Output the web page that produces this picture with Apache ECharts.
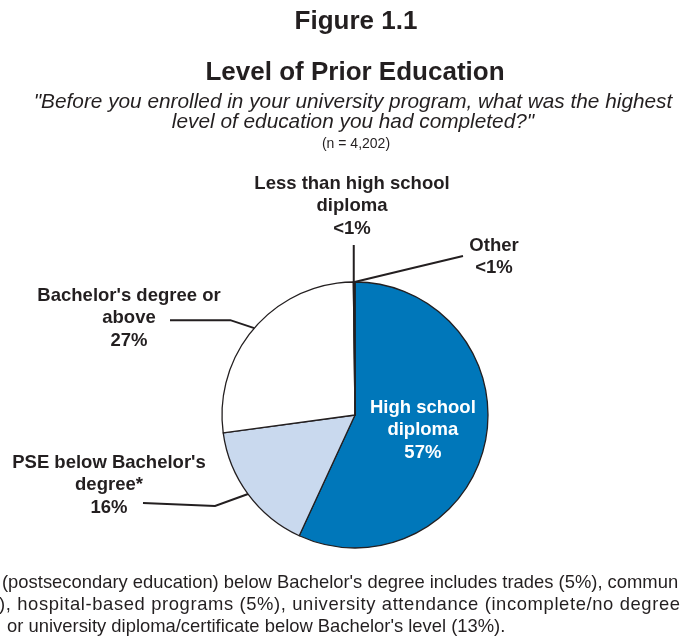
<!DOCTYPE html>
<html>
<head>
<meta charset="utf-8">
<script src="https://cdn.jsdelivr.net/npm/echarts@6/dist/echarts.min.js"></script>
<style>
  html, body { margin: 0; padding: 0; background: #ffffff; }
  #chart { width: 681px; height: 637px; }
</style>
</head>
<body>
<div id="chart"></div>
<script>
// Survey answers: highest level of education completed before enrolling
const categories = [
  'High school diploma',
  "PSE below Bachelor's degree*",
  "Bachelor's degree or above",
  'Less than high school diploma',
  'Other'
];
const labelNames = [
  'High school\ndiploma',
  "PSE below Bachelor's\ndegree*",
  "Bachelor's degree or\nabove",
  'Less than high school\ndiploma',
  'Other'
];
const shares = [57, 16, 27, 0.1, 0.1];
const shareLabels = ['57%', '16%', '27%', '<1%', '<1%'];
const sliceColors = ['#0077BA', '#C9D9EE', '#FFFFFF', '#FFFFFF', '#FFFFFF'];

const titleText = 'Figure 1.1';
const headingText = 'Level of Prior Education';
const questionLines = [
  '"Before you enrolled in your university program, what was the highest',
  'level of education you had completed?"'
];
const sampleText = '(n = 4,202)';
const footnoteLines = [
  "(postsecondary education) below Bachelor's degree includes trades (5%), commun",
  '), hospital-based programs (5%), university attendance (incomplete/no degree',
  " or university diploma/certificate below Bachelor's level (13%)."
];

const ink = '#231F20';
const FONT = '"Liberation Sans", Arial, Helvetica, sans-serif';

// Where each outside label sits, and how its leader line bends
// (bend is relative to the slice edge point, end y is relative to the bend)
const labelPlacement = {
  1: { at: [109, 485], bend: [-33, 12], endX: 143, endDy: -3 },
  2: { at: [129, 318], bend: [-24, -8], endX: 170, endDy: 0 },
  3: { at: [352, 206], bend: [0, -18], endX: null, endDy: -19 },
  4: { at: [494, 257], bend: [54, -13], endX: 463, endDy: -13 }
};

const pieData = categories.map((name, i) => {
  const item = {
    name: name,
    value: shares[i],
    itemStyle: { color: sliceColors[i] }
  };
  if (i === 0) {
    item.label = { position: 'inside', color: '#FFFFFF' };
    item.labelLine = { show: false };
  }
  return item;
});

const graphics = [];
graphics.push({
  type: 'text', x: 356, y: 22,
  style: { text: titleText, font: 'bold 26px ' + FONT, fill: ink, textAlign: 'center', textVerticalAlign: 'middle' }
});
graphics.push({
  type: 'text', x: 355, y: 73,
  style: { text: headingText, font: 'bold 26px ' + FONT, fill: ink, textAlign: 'center', textVerticalAlign: 'middle' }
});
questionLines.forEach((t, i) => {
  graphics.push({
    type: 'text', x: 353, y: 102 + i * 20.5,
    style: { text: t, font: 'italic 20.8px ' + FONT, fill: ink, textAlign: 'center', textVerticalAlign: 'middle' }
  });
});
graphics.push({
  type: 'text', x: 356, y: 144,
  style: { text: sampleText, font: '14px ' + FONT, fill: ink, textAlign: 'center', textVerticalAlign: 'middle' }
});

// Footnote: justified paragraph (tracked out to the right edge), last line left-aligned
const footFont = '18.4px ' + FONT;
const measureCtx = document.createElement('canvas').getContext('2d');
measureCtx.font = footFont;
const footLeft = [2, -1, 2];
const footRight = [null, 680, null];
footnoteLines.forEach((t, i) => {
  const y = 583 + i * 22;
  if (footRight[i] == null) {
    graphics.push({
      type: 'text', x: footLeft[i], y: y,
      style: { text: t, font: footFont, fill: ink, textAlign: 'left', textVerticalAlign: 'middle' }
    });
    return;
  }
  const chars = Array.from(t);
  const natural = measureCtx.measureText(t).width;
  const lastW = measureCtx.measureText(chars[chars.length - 1]).width;
  const extra = (footRight[i] - footLeft[i] - natural) / (chars.length - 1);
  chars.forEach((ch, k) => {
    if (ch === ' ') return;
    const x = footLeft[i] + measureCtx.measureText(t.slice(0, k)).width + k * extra;
    graphics.push({
      type: 'text', x: x, y: y,
      style: { text: ch, font: footFont, fill: ink, textAlign: 'left', textVerticalAlign: 'middle' }
    });
  });
});

const chart = echarts.init(document.getElementById('chart'), null, { renderer: 'canvas' });
chart.setOption({
  animation: false,
  backgroundColor: '#FFFFFF',
  graphic: graphics,
  series: [{
    type: 'pie',
    center: [355, 415],
    radius: 133,
    startAngle: 90,
    clockwise: true,
    avoidLabelOverlap: false,
    minAngle: 0,
    itemStyle: { borderColor: ink, borderWidth: 1.3 },
    emphasis: { disabled: true },
    label: {
      show: true,
      position: 'outside',
      formatter: (p) => labelNames[p.dataIndex] + '\n' + shareLabels[p.dataIndex],
      fontFamily: FONT,
      fontWeight: 'bold',
      fontSize: 18.5,
      lineHeight: 22.5,
      color: ink,
      align: 'center'
    },
    labelLine: {
      show: true,
      length: 20,
      length2: 30,
      lineStyle: { color: ink, width: 2 }
    },
    labelLayout: (params) => {
      const place = labelPlacement[params.dataIndex];
      if (!place) return {};
      const start = params.labelLinePoints ? params.labelLinePoints[0] : null;
      const out = {
        x: place.at[0],
        y: place.at[1],
        align: 'center',
        verticalAlign: 'middle'
      };
      if (start) {
        const bend = [start[0] + place.bend[0], start[1] + place.bend[1]];
        const end = [place.endX == null ? bend[0] : place.endX, bend[1] + place.endDy];
        out.labelLinePoints = [start, bend, end];
      }
      return out;
    },
    data: pieData
  }]
});
</script>
</body>
</html>
